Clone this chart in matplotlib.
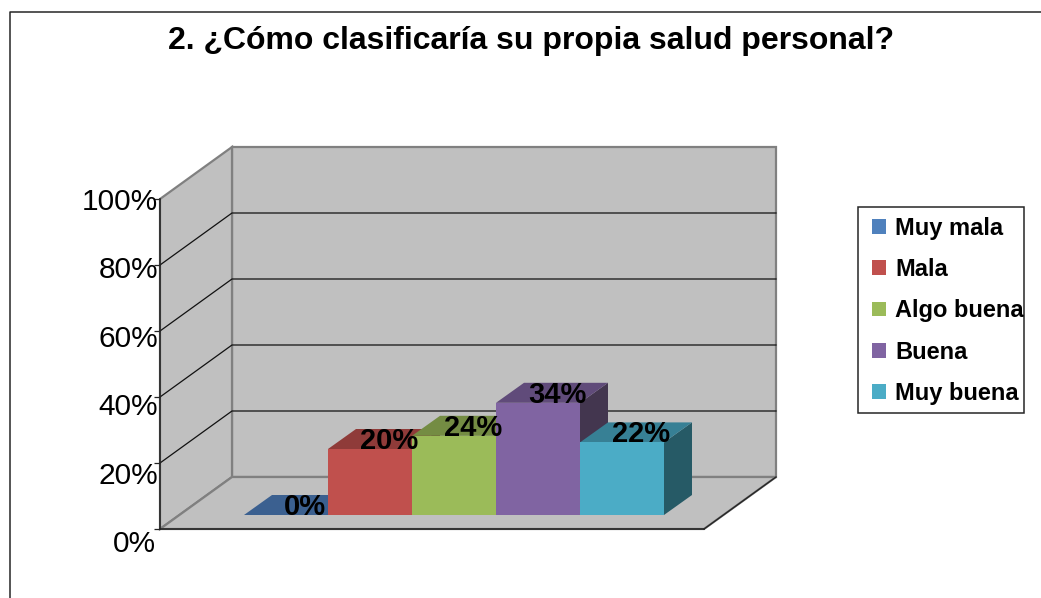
import matplotlib
matplotlib.use("Agg")
import matplotlib.pyplot as plt
from matplotlib.patches import Polygon, Patch, Rectangle
from matplotlib.lines import Line2D

# --- data ---
title = "2. ¿Cómo clasificaría su propia salud personal?"
categories = ["Muy mala", "Mala", "Algo buena", "Buena", "Muy buena"]
values = [0, 20, 24, 34, 22]
y_ticks = [0, 20, 40, 60, 80, 100]
y_tick_labels = ["0%", "20%", "40%", "60%", "80%", "100%"]

# --- style ---
front_colors = ["#4F81BD", "#C0504D", "#9BBB59", "#8064A2", "#4BACC6"]
top_colors = ["#3B6090", "#8F3B39", "#748C43", "#604B7A", "#378095"]
side_colors = ["#2B4665", "#652A28", "#526230", "#43364F", "#265A66"]
WALL = "#C0C0C0"
EDGE = "#808080"
DARK = "#262626"
FONT = "Liberation Sans"

W, H, DPI = 1041, 598, 100
fig = plt.figure(figsize=(W / DPI, H / DPI), dpi=DPI, facecolor="white")

# front plane of the 3-D box: 160..704 px wide, 199..529 px from the top
L, R, T, B = 160, 704, 199, 529
ax = fig.add_axes([L / W, 1 - B / H, (R - L) / W, (B - T) / H], facecolor="none")
PX_PER_CAT = 84.0
PX_PER_PCT = (B - T) / 100.0
ax.set_xlim(-1, -1 + (R - L) / PX_PER_CAT)
ax.set_ylim(0, 100)
xp = lambda px: px / PX_PER_CAT
yp = lambda px: px / PX_PER_PCT

x0, x1 = ax.get_xlim()
wall_dx, wall_dy = xp(72), yp(52)
bar_dx, bar_dy = xp(28), yp(20)
floor_gap = yp(14)

# walls and floor
ax.add_patch(Polygon([(x0 + wall_dx, wall_dy), (x1 + wall_dx, wall_dy),
                      (x1 + wall_dx, 100 + wall_dy), (x0 + wall_dx, 100 + wall_dy)],
                     closed=True, fc=WALL, ec=EDGE, lw=1.6, clip_on=False, zorder=1))
ax.add_patch(Polygon([(x0, 0), (x0 + wall_dx, wall_dy), (x0 + wall_dx, 100 + wall_dy), (x0, 100)],
                     closed=True, fc=WALL, ec=EDGE, lw=1.6, clip_on=False, zorder=1))
ax.add_patch(Polygon([(x0, 0), (x1, 0), (x1 + wall_dx, wall_dy), (x0 + wall_dx, wall_dy)],
                     closed=True, fc=WALL, ec=EDGE, lw=1.6, clip_on=False, zorder=1))
ax.add_line(Line2D([x1, x1 + wall_dx], [0, wall_dy], color=DARK, lw=1.0, clip_on=False, zorder=1.5))

# gridlines on the back and side walls
for t in y_ticks[1:-1]:
    ax.add_line(Line2D([x0, x0 + wall_dx, x1 + wall_dx],
                       [t, t + wall_dy, t + wall_dy],
                       color="#111111", lw=0.9, clip_on=False, zorder=1.5))

# axes lines
for s in ["top", "right"]:
    ax.spines[s].set_visible(False)
for s in ["left", "bottom"]:
    ax.spines[s].set_color(DARK)
    ax.spines[s].set_linewidth(1.2)
ax.set_xticks([])
ax.set_yticks(y_ticks)
ax.set_yticklabels([])
ax.tick_params(axis="y", length=4, width=0.9, color=DARK, direction="out")

# 3-D bars
for i, (v, fc, tc, sc) in enumerate(zip(values, front_colors, top_colors, side_colors)):
    l, r = float(i), float(i + 1)
    b, t = floor_gap, floor_gap + v
    ax.add_patch(Polygon([(r, b), (r + bar_dx, b + bar_dy), (r + bar_dx, t + bar_dy), (r, t)],
                         closed=True, fc=sc, ec="none", clip_on=False, zorder=3))
    ax.add_patch(Polygon([(l, t), (r, t), (r + bar_dx, t + bar_dy), (l + bar_dx, t + bar_dy)],
                         closed=True, fc=tc, ec="none", clip_on=False, zorder=3))
    ax.add_patch(Rectangle((l, b), 1, v, fc=fc, ec="none", clip_on=False, zorder=3))

# value labels
for i, v in enumerate(values):
    ax.text(i + 0.5 + xp(19), floor_gap + v + yp(8), f"{v}%", family=FONT, fontsize=21,
            fontweight="bold", color="black", ha="center", va="center", zorder=5, clip_on=False)

# y tick labels (their spacing is a little wider than the gridlines' in the source)
LABEL_PITCH = 3.42
for t, lab in zip(y_ticks, y_tick_labels):
    y_px = 544 - t * LABEL_PITCH
    ax.text(x0 - xp(2 if t else 4), (B - y_px) / PX_PER_PCT, lab, family=FONT, fontsize=21.5,
            color="black", ha="right", va="center", clip_on=False, zorder=5)

# title
fig.text(531.5 / W, 1 - 41 / H, title, family=FONT, fontsize=23, fontweight="bold",
         ha="center", va="center", color="black")

# outer chart frame (top and left edges are visible in the crop)
fig.add_artist(Line2D([9.5 / W, 9.5 / W, 1], [0, 1 - 11.5 / H, 1 - 11.5 / H],
                      color=DARK, lw=1.1, transform=fig.transFigure))

# legend
fig.add_artist(Rectangle((857.5 / W, 1 - 413 / H), 166 / W, 206 / H, fc="white", ec=DARK, lw=1.1,
                         transform=fig.transFigure))
handles = [Patch(fc=c, ec="none") for c in front_colors]
FS = 17
em = FS * DPI / 72
leg = fig.legend(handles, categories, loc="upper left",
                 bbox_to_anchor=(872 / W, 1 - 217 / H), bbox_transform=fig.transFigure,
                 frameon=False, borderpad=0, borderaxespad=0, handlelength=14 / em, handleheight=14 / em,
                 handletextpad=9 / em, labelspacing=0.77,
                 prop={"family": FONT, "size": FS, "weight": "bold"})

fig.savefig("out.png", dpi=DPI, facecolor="white")
